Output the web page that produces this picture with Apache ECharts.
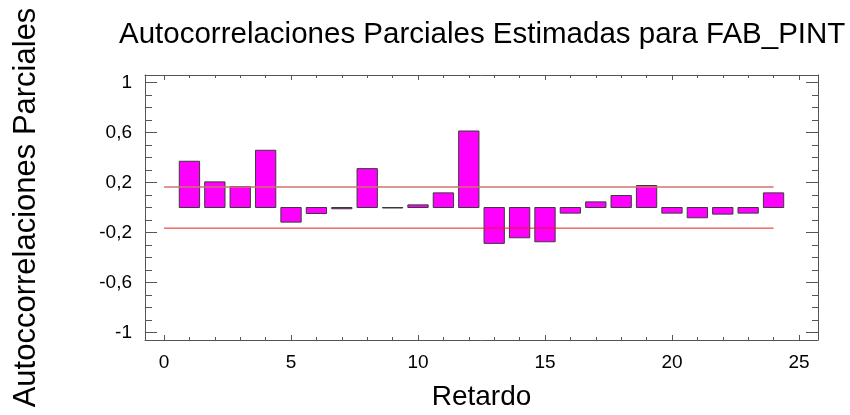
<!DOCTYPE html>
<html>
<head>
<meta charset="utf-8">
<script src="https://cdn.jsdelivr.net/npm/echarts@6/dist/echarts.min.js"></script>
<style>
  html, body { margin: 0; padding: 0; background: #fff; }
  #chart { width: 850px; height: 415px; }
</style>
</head>
<body>
<div id="chart"></div>
<script>
// Partial autocorrelation estimates by lag
const lags = [1, 2, 3, 4, 5, 6, 7, 8, 9, 10, 11, 12, 13, 14, 15, 16, 17, 18, 19, 20, 21, 22, 23, 24];
const pacf = [0.370, 0.205, 0.168, 0.458, -0.117, -0.048, -0.010, 0.311, -0.004, 0.021, 0.117, 0.612,
              -0.287, -0.242, -0.274, -0.045, 0.045, 0.096, 0.176, -0.045, -0.082, -0.053, -0.045, 0.117];

// 95% probability limits
const upperLimit = 0.165;
const lowerLimit = -0.165;
const limitSpan = [0, 24];

// Axis ticks and labels
const xMajorTicks = [0, 5, 10, 15, 20, 25];
const xMinorTicks = [0, 1, 2, 3, 4, 5, 6, 7, 8, 9, 10, 11, 12, 13, 14, 15, 16, 17, 18, 19, 20, 21, 22, 23, 24, 25];
const yMajorTicks = [-1, -0.6, -0.2, 0.2, 0.6, 1];
const yMinorTicks = [-1, -0.9, -0.8, -0.7, -0.6, -0.5, -0.4, -0.3, -0.2, -0.1, 0, 0.1, 0.2, 0.3, 0.4, 0.5, 0.6, 0.7, 0.8, 0.9, 1];

const titleText = 'Autocorrelaciones Parciales Estimadas para FAB_PINT';
const xTitle = 'Retardo';
const yTitle = 'Autoccorrelaciones Parciales';

const FONT = "'Liberation Sans', Arial, sans-serif";
const FRAME = '#555555';
const X_RANGE = { min: -0.75, max: 25.75 };
const Y_RANGE = { min: -1.06, max: 1.06 };
const BAR_HALF = 0.4;

const chart = echarts.init(document.getElementById('chart'), null, { renderer: 'canvas' });

function xAxisDef(position, ticks, tickLen, withLine, withLabels) {
  return Object.assign({
    type: 'value',
    position: position,
    min: X_RANGE.min,
    max: X_RANGE.max,
    splitLine: { show: false },
    axisLine: { show: withLine, onZero: false, lineStyle: { color: FRAME, width: 1 } },
    axisTick: { show: true, inside: true, length: tickLen, customValues: ticks, lineStyle: { color: FRAME, width: 1 } },
    axisLabel: withLabels ? {
      show: true, customValues: xMajorTicks, margin: 13,
      color: '#000', fontSize: 19, fontFamily: FONT
    } : { show: false }
  }, withLabels ? {
    name: xTitle,
    nameLocation: 'middle',
    nameGap: 43,
    nameTextStyle: { color: '#000', fontSize: 28, fontFamily: FONT }
  } : {});
}

function yAxisDef(position, ticks, tickLen, withLine, withLabels) {
  return Object.assign({
    type: 'value',
    position: position,
    min: Y_RANGE.min,
    max: Y_RANGE.max,
    splitLine: { show: false },
    axisLine: { show: withLine, onZero: false, lineStyle: { color: FRAME, width: 1 } },
    axisTick: { show: true, inside: true, length: tickLen, customValues: ticks, lineStyle: { color: FRAME, width: 1 } },
    axisLabel: withLabels ? {
      show: true, customValues: yMajorTicks, margin: 13,
      color: '#000', fontSize: 19, fontFamily: FONT,
      formatter: v => String(Math.round(v * 10) / 10).replace('.', ',')
    } : { show: false }
  }, withLabels ? {
    name: yTitle,
    nameLocation: 'middle',
    nameRotate: 90,
    nameGap: 103,
    nameTextStyle: { color: '#000', fontSize: 31, fontFamily: FONT }
  } : {});
}

const option = {
  backgroundColor: '#ffffff',
  animation: false,
  title: {
    text: titleText,
    left: 114,
    top: 15,
    textStyle: { color: '#000', fontSize: 29.5, fontWeight: 'normal', fontFamily: FONT }
  },
  grid: { left: 145, right: 32, top: 75, bottom: 75, containLabel: false, outerBoundsMode: 'none' },
  xAxis: [
    xAxisDef('bottom', xMajorTicks, 5, true, true),
    xAxisDef('bottom', xMinorTicks, 3, false, false),
    xAxisDef('top', xMajorTicks, 5, true, false),
    xAxisDef('top', xMinorTicks, 3, false, false)
  ],
  yAxis: [
    yAxisDef('left', yMajorTicks, 12, true, true),
    yAxisDef('left', yMinorTicks, 7, false, false),
    yAxisDef('right', yMajorTicks, 12, true, false),
    yAxisDef('right', yMinorTicks, 6, false, false)
  ],
  series: [
    {
      name: 'PACF',
      type: 'custom',
      xAxisIndex: 0,
      yAxisIndex: 0,
      data: lags.map((l, i) => [l, pacf[i]]),
      renderItem: function (params, api) {
        const lag = api.value(0);
        const v = api.value(1);
        const p0 = api.coord([lag - BAR_HALF, Math.max(v, 0)]);
        const p1 = api.coord([lag + BAR_HALF, Math.min(v, 0)]);
        return {
          type: 'rect',
          shape: { x: p0[0], y: p0[1], width: p1[0] - p0[0], height: p1[1] - p0[1] },
          style: { fill: '#ff00ff', stroke: '#3a3a3a', lineWidth: 1 }
        };
      },
      z: 2
    },
    {
      name: 'Límite superior',
      type: 'line',
      xAxisIndex: 0,
      yAxisIndex: 0,
      data: limitSpan.map(x => [x, upperLimit]),
      symbol: 'none',
      silent: true,
      lineStyle: { color: '#cf7272', width: 1.5 },
      z: 3
    },
    {
      name: 'Límite inferior',
      type: 'line',
      xAxisIndex: 0,
      yAxisIndex: 0,
      data: limitSpan.map(x => [x, lowerLimit]),
      symbol: 'none',
      silent: true,
      lineStyle: { color: '#e8201c', width: 1 },
      z: 3
    }
  ]
};

chart.setOption(option);
</script>
</body>
</html>
